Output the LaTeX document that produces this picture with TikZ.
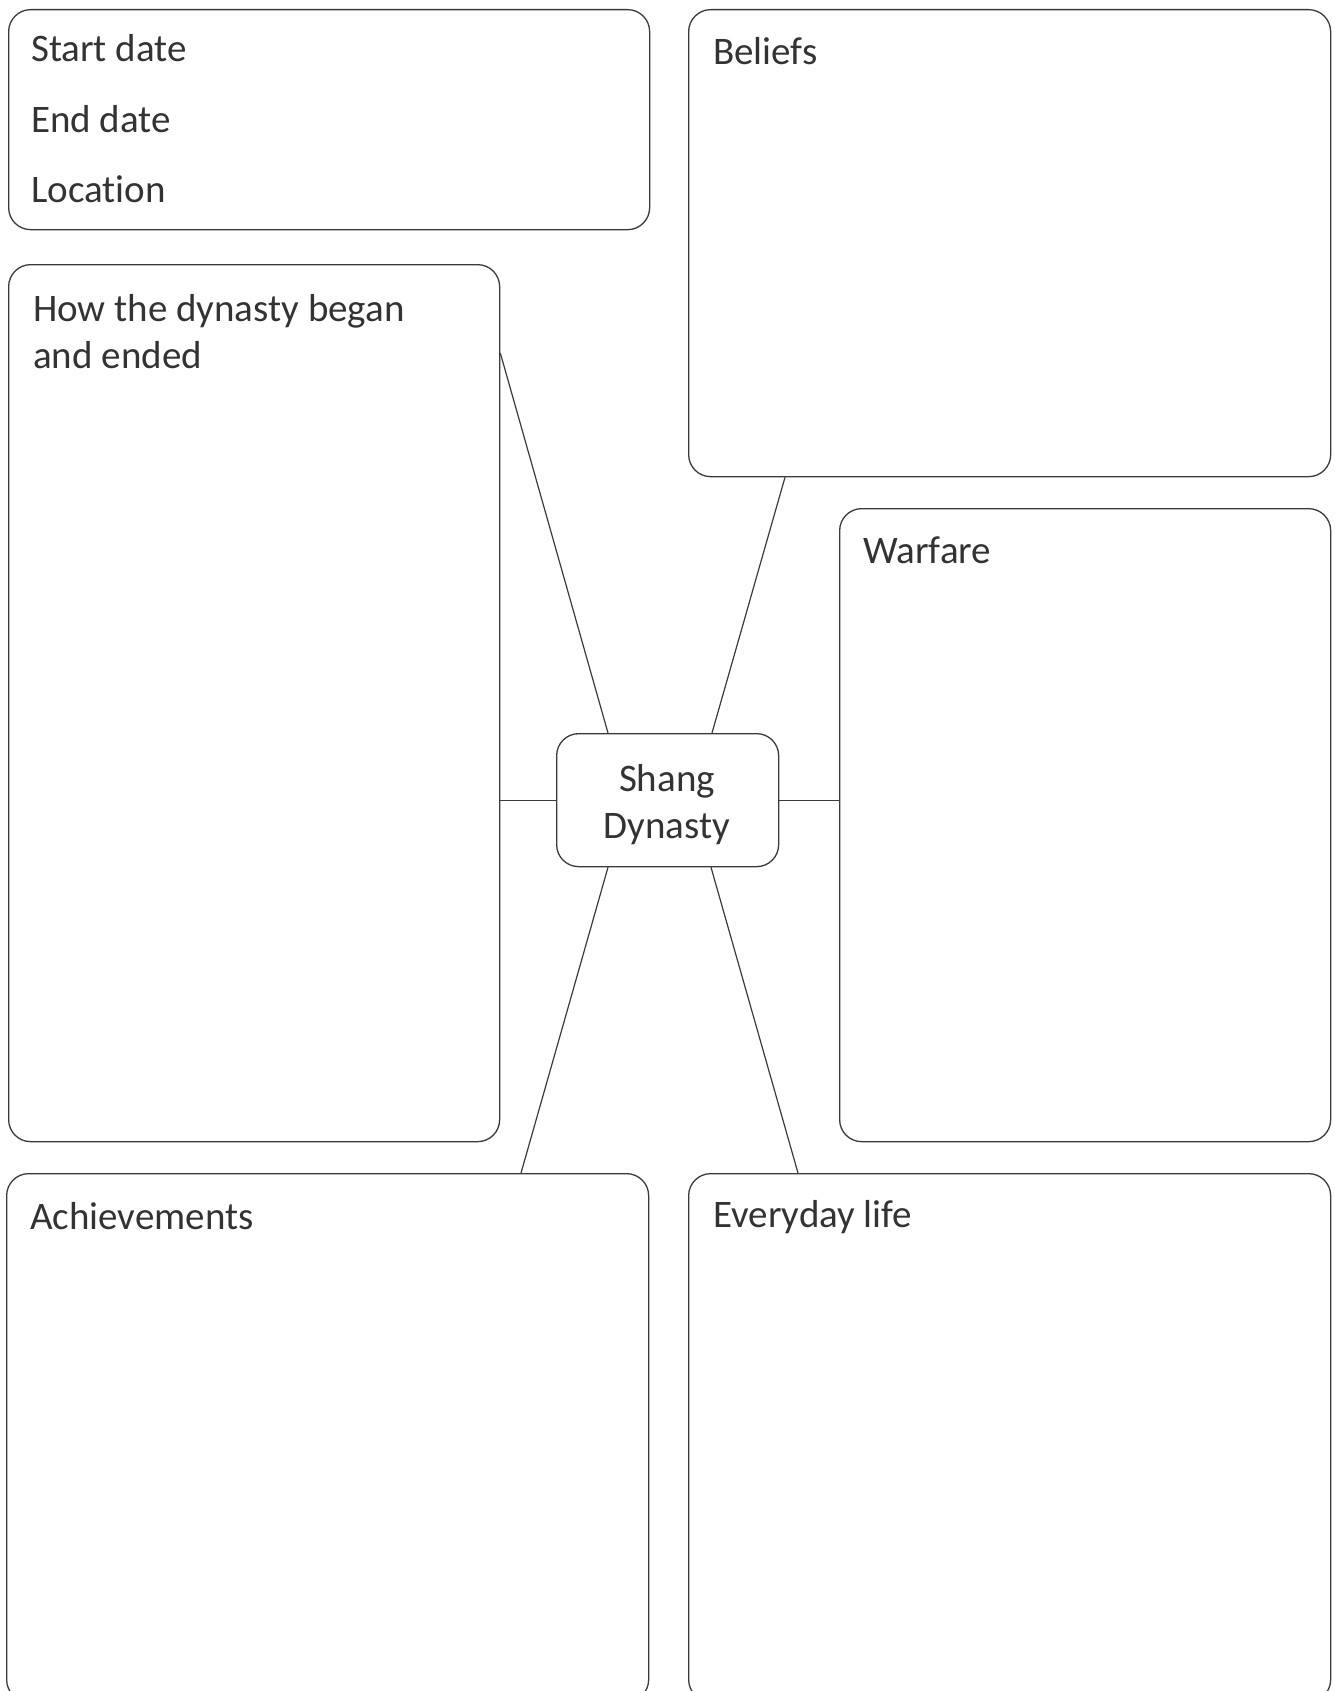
\documentclass[tikz,border=0pt]{standalone}
\usepackage{fontspec}
\setmainfont{Carlito}[Ligatures=NoCommon]
\usetikzlibrary{calc}
\definecolor{lineC}{HTML}{3A3A3A}
\definecolor{textC}{HTML}{333333}
\tikzset{
  panel/.style={draw=lineC, line width=1.3pt, rounded corners=22pt, rectangle, anchor=north west, inner sep=0pt},
  lbl/.style={anchor=base west, inner sep=0pt, text=textC, font=\fontsize{39}{47}\selectfont},
  clbl/.style={anchor=base, inner sep=0pt, text=textC, font=\fontsize{39}{47}\selectfont},
  link/.style={draw=lineC, line width=1.2pt}
}
\begin{document}
\begin{tikzpicture}[x=1pt,y=-1pt]
\useasboundingbox (0,0) rectangle (1335,1691);
\begin{scope}
\clip (0,0) rectangle (1335,1691);
% panels
\node[panel, minimum width=641pt, minimum height=220pt] (dates) at (8,9) {};
\node[panel, minimum width=642pt, minimum height=467pt] (beliefs) at (688,9) {};
\node[panel, minimum width=491pt, minimum height=877pt] (how) at (8,264) {};
\node[panel, minimum width=491pt, minimum height=633pt] (war) at (839,508) {};
\node[panel, minimum width=642pt, minimum height=528pt] (ach) at (6,1173) {};
\node[panel, minimum width=642pt, minimum height=528pt] (life) at (688,1173) {};
\node[panel, minimum width=222pt, minimum height=133pt] (c) at (556,733) {};
% labels
\node[lbl] (t1) at (31,62) {Start date};
\node[lbl] (t2) at (31,132) {End date};
\node[lbl] (t3) at (31,202) {Location};
\node[lbl] (tb) at (713,65) {Beliefs};
\node[lbl] (th1) at (33,321) {How the dynasty began};
\node[lbl] (th2) at (33,368) {and ended};
\node[lbl] (tw) at (863,563) {Warfare};
\node[lbl] (ta) at (30,1229) {Achievements};
\node[lbl] (tl) at (713,1227) {Everyday life};
\node[clbl] (tc1) at (667,791) {Shang};
\node[clbl] (tc2) at (667,838) {Dynasty};
% connectors
\coordinate (cTL) at ($(c.north west)+(52,0)$);
\coordinate (cTR) at ($(c.north west)+(156,0)$);
\coordinate (cBL) at ($(c.south west)+(52,0)$);
\coordinate (cBR) at ($(c.south west)+(155,0)$);
\coordinate (howP) at ($(how.north east)+(0,89)$);
\coordinate (belP) at ($(beliefs.south west)+(97,0)$);
\coordinate (achP) at ($(ach.north west)+(515,0)$);
\coordinate (lifeP) at ($(life.north west)+(110,0)$);
\draw[link] (cTL) -- (howP);
\draw[link] (cTR) -- (belP);
\draw[link] (cBL) -- (achP);
\draw[link] (cBR) -- (lifeP);
\draw[link] (c.west) -- (c.west -| how.east);
\draw[link] (c.east) -- (c.east -| war.west);
\end{scope}
\end{tikzpicture}
\end{document}
